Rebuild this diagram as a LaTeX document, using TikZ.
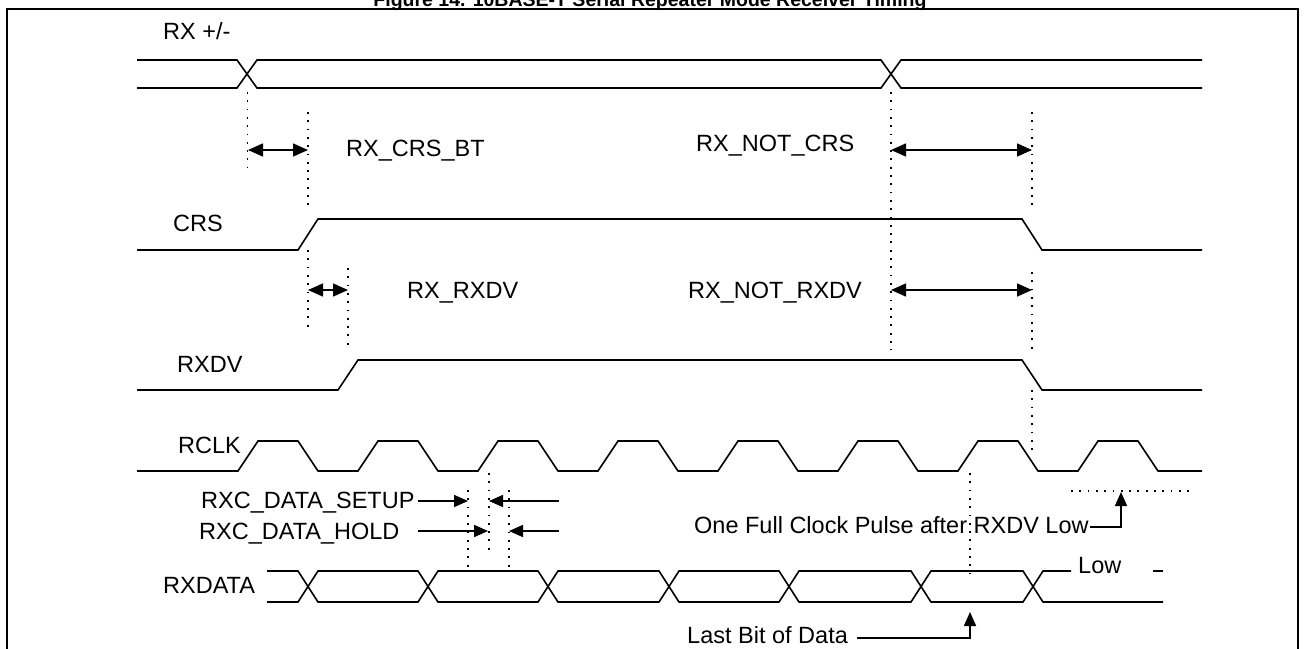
\documentclass[tikz,border=0pt]{standalone}
\usepackage{fontspec}
\setmainfont{Liberation Sans}
\usetikzlibrary{arrows.meta}
\begin{document}
\begin{tikzpicture}[x=1pt,y=-1pt,
  sig/.style={line width=1.6pt, line join=miter},
  dotl/.style={line width=1.5pt, dash pattern=on 1.8pt off 6.5pt},
  dimarrow/.style={line width=1.6pt, {Triangle[length=15pt,width=13pt]}-{Triangle[length=15pt,width=13pt]}},
  onearrow/.style={line width=1.6pt, -{Triangle[length=14pt,width=12pt]}},
  lbl/.style={font=\fontsize{23.5}{28}\selectfont, inner sep=0pt, anchor=base west}]
\useasboundingbox (0,0) rectangle (1304,648);
% title (cut off at top) and frame
\node[font=\bfseries\fontsize{19.5}{22}\selectfont, inner sep=0pt, anchor=base] (title) at (650,6) {Figure 14. 10BASE-T Serial Repeater Mode Receiver Timing};
\draw[line width=2.2pt] (7,660) -- (7,9) -- (1298,9) -- (1298,660);

% labels
\node[lbl] (lrx) at (163,39.5) {RX +/-};
\node[lbl] (lcrs) at (173,231.5) {CRS};
\node[lbl] (lrxdv) at (177,372.5) {RXDV};
\node[lbl] (lrclk) at (178,453.5) {RCLK};
\node[lbl] (lsetup) at (201,508.5) {RXC\_DATA\_SETUP};
\node[lbl] (lhold) at (199,539.5) {RXC\_DATA\_HOLD};
\node[lbl] (lrxdata) at (163,593.5) {RXDATA};
\node[lbl] (lcrsbt) at (346,156.5) {RX\_CRS\_BT};
\node[lbl] (lrxrxdv) at (407,298.5) {RX\_RXDV};
\node[lbl] (lnotcrs) at (696,151.5) {RX\_NOT\_CRS};
\node[lbl] (lnotrxdv) at (688,298.5) {RX\_NOT\_RXDV};
\node[lbl] (llow) at (1078,573.5) {Low};
\node[lbl] (llast) at (687,643.5) {Last Bit of Data};
\node[lbl] (lone) at (694,533.5) {One Full Clock Pulse after RXDV Low};

% RX +/-
\draw[sig] (137,60) -- (237,60) -- (257,88) -- (881,88) -- (901,60) -- (1202,60);
\draw[sig] (137,88) -- (237,88) -- (257,60) -- (881,60) -- (901,88) -- (1202,88);
% CRS
\draw[sig] (137,250) -- (298,250) -- (318,219) -- (1022,219) -- (1042,250) -- (1202,250);
% RXDV
\draw[sig] (137,390) -- (338,390) -- (358,360) -- (1022,360) -- (1042,390) -- (1202,390);
% RCLK
\draw[sig] (137,471) -- (238,471)
  \foreach \i in {0,...,7} { -- ({258+120*\i},441) -- ({298+120*\i},441) -- ({318+120*\i},471) -- ({358+120*\i},471) }
  -- (1202,471);
% RXDATA
\draw[sig] (267,571) -- (298,571) -- (318,602) -- (418,602) -- (438,571) -- (538,571) -- (558,602) -- (659,602) -- (679,571) -- (779,571) -- (799,602) -- (911,602) -- (931,571) -- (1023,571) -- (1043,602) -- (1163,602);
\draw[sig] (267,602) -- (298,602) -- (318,571) -- (418,571) -- (438,602) -- (538,602) -- (558,571) -- (659,571) -- (679,602) -- (779,602) -- (799,571) -- (911,571) -- (931,602) -- (1023,602) -- (1043,571) -- (1071,571);
\draw[sig] (1153,571) -- (1163,571);

% dotted guide lines
\draw[dotl] (247.5,92) -- (247.5,167);
\draw[dotl] (308,112) -- (308,210);
\draw[dotl] (308,250) -- (308,328);
\draw[dotl] (348,268) -- (348,348);
\draw[dotl] (891,92) -- (891,350);
\draw[dotl] (1032,112) -- (1032,210);
\draw[dotl] (1032,272) -- (1032,350);
\draw[dotl] (1032,390) -- (1032,452);
\draw[dotl] (468,490) -- (468,570);
\draw[dotl] (489,473) -- (489,550);
\draw[dotl] (509,490) -- (509,570);
\draw[dotl] (970,473) -- (970,577);
\draw[dotl] (1071,491) -- (1189,491);

% dimension arrows
\coordinate (a1l) at (248,150); \coordinate (a1r) at (308,150);
\draw[dimarrow] (a1l) -- (a1r);
\coordinate (a2l) at (308,290); \coordinate (a2r) at (348,290);
\draw[dimarrow] (a2l) -- (a2r);
\coordinate (a3l) at (891,150); \coordinate (a3r) at (1032,150);
\draw[dimarrow] (a3l) -- (a3r);
\coordinate (a4l) at (891,290); \coordinate (a4r) at (1032,290);
\draw[dimarrow] (a4l) -- (a4r);

% setup / hold arrows
\coordinate (s1) at (418,501); \coordinate (s1t) at (468,501);
\coordinate (s2) at (559,501); \coordinate (s2t) at (489,501);
\coordinate (h1) at (418,531); \coordinate (h1t) at (488,531);
\coordinate (h2) at (559,531); \coordinate (h2t) at (509,531);
\draw[onearrow] (s1) -- (s1t);
\draw[onearrow] (s2) -- (s2t);
\draw[onearrow] (h1) -- (h1t);
\draw[onearrow] (h2) -- (h2t);

% callouts
\coordinate (lastc) at (970,638); \coordinate (lastt) at (970,612);
\draw[onearrow] (llast.base east |- lastc) ++(9,0) -- (lastc) -- (lastt);
\coordinate (onec) at (1121,527); \coordinate (onet) at (1121,492);
\draw[onearrow] (1090,527) -- (onec) -- (onet);
\end{tikzpicture}
\end{document}
